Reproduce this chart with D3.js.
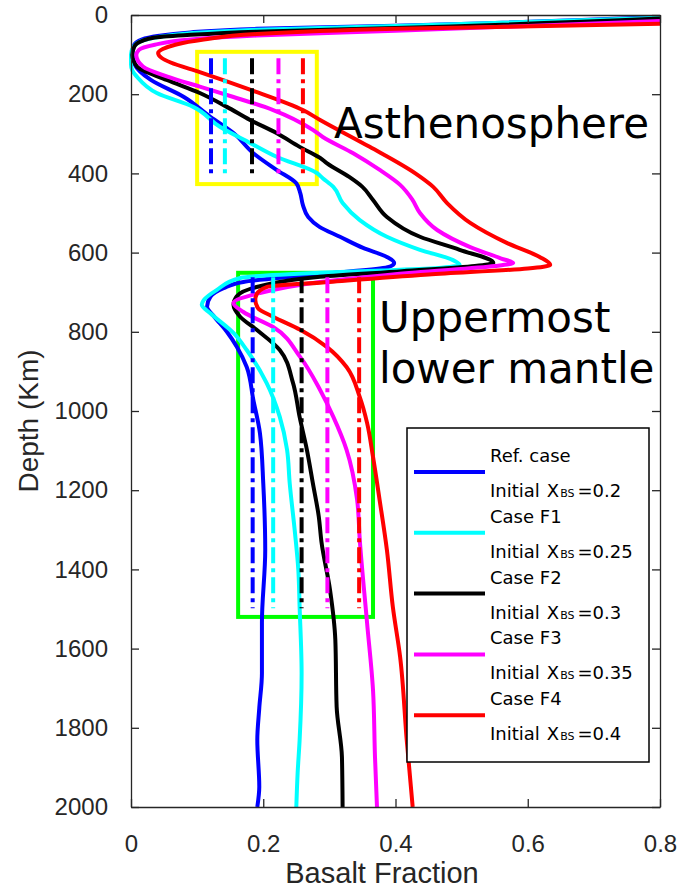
<!DOCTYPE html>
<html>
<head>
<meta charset="utf-8">
<script src="https://cdn.jsdelivr.net/npm/d3@7/dist/d3.min.js"></script>
<style>
  body { margin: 0; background: #fff; }
  svg { display: block; }
  .axis path, .axis line { stroke: #262626; stroke-width: 1.3; }
  .axis text { font-family: "Liberation Sans", Arial, sans-serif; font-size: 24px; fill: #262626; }
</style>
</head>
<body>
<div id="chart"></div>
<script>
// depth (km), basalt fraction
const profileRef = [[5,0.8],[27,0.40],[35,0.19],[44,0.09],[53,0.04],[62,0.016],[75,0.005],[95,0.002],[126,0.006],[164,0.03],[207,0.08],[257,0.12],[298,0.155],[349,0.185],[391,0.22],[425,0.25],[450,0.256],[480,0.26],[510,0.268],[535,0.285],[560,0.316],[588,0.351],[611,0.387],[626,0.398],[636,0.39],[648,0.33],[660,0.25],[674,0.17],[690,0.14],[712,0.12],[737,0.115],[760,0.125],[800,0.145],[838,0.16],[889,0.175],[972,0.185],[1056,0.195],[1182,0.2],[1351,0.203],[1535,0.198],[1662,0.198],[1750,0.194],[1831,0.191],[1949,0.194],[2000,0.191]];
const profileF1 = [[7,0.8],[28,0.40],[37,0.19],[46,0.09],[56,0.04],[66,0.015],[80,0.004],[100,0.0],[125,0.0],[140,0.002],[156,0.009],[197,0.039],[232,0.094],[283,0.135],[323,0.18],[358,0.22],[399,0.281],[412,0.29],[434,0.306],[475,0.32],[518,0.346],[560,0.387],[593,0.437],[619,0.487],[631,0.497],[638,0.47],[645,0.38],[651,0.286],[664,0.165],[694,0.13],[720,0.11],[732,0.107],[753,0.12],[803,0.155],[846,0.175],[929,0.205],[1015,0.225],[1098,0.236],[1182,0.24],[1308,0.248],[1400,0.253],[1495,0.255],[1662,0.258],[1831,0.255],[1914,0.252],[2000,0.25]];
const profileF2 = [[9,0.8],[33,0.40],[42,0.19],[50,0.09],[57,0.036],[66,0.016],[80,0.005],[101,0.002],[130,0.009],[164,0.054],[197,0.104],[232,0.145],[265,0.18],[298,0.22],[333,0.255],[361,0.286],[374,0.296],[409,0.33],[434,0.35],[467,0.366],[510,0.387],[560,0.437],[593,0.497],[626,0.548],[634,0.52],[647,0.41],[661,0.286],[687,0.19],[710,0.16],[732,0.155],[762,0.165],[795,0.19],[846,0.225],[929,0.245],[1015,0.255],[1098,0.266],[1182,0.275],[1267,0.284],[1330,0.288],[1452,0.301],[1578,0.309],[1747,0.311],[1874,0.319],[2000,0.32]];
const profileF3 = [[15,0.8],[40,0.40],[52,0.19],[62,0.09],[75,0.036],[88,0.012],[101,0.008],[130,0.018],[155,0.054],[181,0.104],[207,0.155],[240,0.215],[290,0.275],[308,0.29],[349,0.336],[390,0.375],[429,0.407],[465,0.425],[500,0.437],[543,0.463],[586,0.513],[615,0.56],[626,0.578],[634,0.55],[650,0.43],[674,0.286],[702,0.195],[727,0.155],[750,0.17],[788,0.215],[864,0.256],[947,0.286],[1015,0.306],[1098,0.326],[1225,0.342],[1326,0.346],[1535,0.357],[1705,0.366],[1874,0.369],[2000,0.372]];
const profileF4 = [[22,0.8],[35,0.40],[48,0.19],[62,0.11],[75,0.067],[86,0.048],[96,0.041],[108,0.046],[120,0.06],[144,0.104],[189,0.181],[240,0.26],[265,0.286],[333,0.361],[400,0.43],[434,0.457],[475,0.478],[525,0.513],[576,0.569],[611,0.618],[631,0.634],[640,0.6],[655,0.45],[674,0.3],[687,0.205],[705,0.19],[720,0.188],[740,0.192],[762,0.215],[795,0.256],[838,0.296],[889,0.326],[965,0.346],[1030,0.357],[1116,0.366],[1225,0.376],[1351,0.387],[1495,0.396],[1621,0.407],[1831,0.417],[2000,0.426]];

const profiles = [profileRef, profileF1, profileF2, profileF3, profileF4];
const caseNames = ["Ref. case", "Case F1", "Case F2", "Case F3", "Case F4"];
const initialFractions = ["0.2", "0.25", "0.3", "0.35", "0.4"];
const caseColors = ["#0000ff", "#00ffff", "#000000", "#ff00ff", "#ff0000"];

// mean fraction within each highlighted region
const upperMeans = [0.121, 0.142, 0.183, 0.223, 0.26];
const lowerMeans = [0.184, 0.215, 0.258, 0.297, 0.345];
const upperRange = [109, 409];
const lowerRange = [662, 1498];

const regionNames = ["Asthenosphere", "Uppermost lower mantle"];
const upperBox = { f: [0.1, 0.281], d: [93, 427] };
const lowerBox = { f: [0.162, 0.366], d: [651, 1520] };

const xTicks = [0, 0.2, 0.4, 0.6, 0.8];
const yTicks = [0, 200, 400, 600, 800, 1000, 1200, 1400, 1600, 1800, 2000];

const width = 677, height = 888;
const x = d3.scaleLinear().domain([0, 0.8]).range([131, 660]);
const y = d3.scaleLinear().domain([0, 2000]).range([15, 807]);

const svg = d3.select("#chart").append("svg")
    .attr("width", width)
    .attr("height", height);

// region boxes
[[upperBox, "#ffff00"], [lowerBox, "#00ff00"]].forEach(([b, c]) => {
    svg.append("rect")
        .attr("x", x(b.f[0]))
        .attr("y", y(b.d[0]))
        .attr("width", x(b.f[1]) - x(b.f[0]))
        .attr("height", y(b.d[1]) - y(b.d[0]))
        .attr("fill", "none")
        .attr("stroke", c)
        .attr("stroke-width", 4);
});

const line = d3.line()
    .x(d => x(d[1]))
    .y(d => y(d[0]))
    .curve(d3.curveMonotoneY);

svg.append("g").selectAll("path")
    .data(profiles)
    .enter()
    .append("path")
    .attr("d", line)
    .attr("fill", "none")
    .attr("stroke", (d, i) => caseColors[i])
    .attr("stroke-width", 4)
    .attr("stroke-linejoin", "round");

// dash-dot means
[[upperMeans, upperRange], [lowerMeans, lowerRange]].forEach(([means, r]) => {
    svg.append("g").selectAll("line")
        .data(means)
        .enter()
        .append("line")
        .attr("x1", d => x(d))
        .attr("x2", d => x(d))
        .attr("y1", y(r[0]))
        .attr("y2", y(r[1]))
        .attr("stroke", (d, i) => caseColors[i])
        .attr("stroke-width", 4)
        .attr("stroke-dasharray", "16,5,4,5");
});

// axes
svg.append("g").attr("class", "axis")
    .attr("transform", `translate(0,${y(2000)})`)
    .call(d3.axisBottom(x).tickValues(xTicks).tickSizeInner(-8).tickSizeOuter(0).tickPadding(28)
        .tickFormat(d => d === 0 ? "0" : d3.format(".1f")(d)));
svg.append("g").attr("class", "axis")
    .attr("transform", `translate(0,${y(0)})`)
    .call(d3.axisTop(x).tickValues(xTicks).tickSizeInner(-8).tickSizeOuter(0).tickFormat(""));
svg.append("g").attr("class", "axis")
    .attr("transform", `translate(${x(0)},0)`)
    .call(d3.axisLeft(y).tickValues(yTicks).tickSizeInner(-8).tickSizeOuter(0).tickPadding(23)
        .tickFormat(d3.format("d")));
svg.append("g").attr("class", "axis")
    .attr("transform", `translate(${x(0.8)},0)`)
    .call(d3.axisRight(y).tickValues(yTicks).tickSizeInner(-8).tickSizeOuter(0).tickFormat(""));

svg.append("text")
    .attr("x", 382).attr("y", 883)
    .attr("text-anchor", "middle")
    .attr("font-family", "Liberation Sans, Arial, sans-serif")
    .attr("font-size", 29)
    .attr("fill", "#262626")
    .text("Basalt Fraction");

svg.append("text")
    .attr("transform", "translate(38,421) rotate(-90)")
    .attr("text-anchor", "middle")
    .attr("font-family", "Liberation Sans, Arial, sans-serif")
    .attr("font-size", 28)
    .attr("fill", "#262626")
    .text("Depth (Km)");

// region labels
const lab = svg.append("g")
    .attr("font-family", "DejaVu Sans, sans-serif")
    .attr("font-size", 42)
    .attr("fill", "#000");
lab.append("text").attr("x", 334).attr("y", 138).text(regionNames[0]);
lab.append("text").attr("x", 379).attr("y", 332).text("Uppermost");
lab.append("text").attr("x", 379).attr("y", 383).text("lower mantle");

// legend
const legend = svg.append("g");
legend.append("rect")
    .attr("x", 407).attr("y", 428)
    .attr("width", 242).attr("height", 334)
    .attr("fill", "#fff")
    .attr("stroke", "#000")
    .attr("stroke-width", 1.5);

const items = legend.selectAll("g.item")
    .data(caseNames)
    .enter()
    .append("g")
    .attr("class", "item")
    .attr("transform", (d, i) => `translate(0,${472 + i * 60.8})`);

items.append("line")
    .attr("x1", 414).attr("x2", 485)
    .attr("stroke", (d, i) => caseColors[i])
    .attr("stroke-width", 4);

items.append("text")
    .attr("x", 490).attr("y", -10)
    .attr("font-family", "DejaVu Sans, sans-serif")
    .attr("font-size", 18)
    .text(d => d);

const t2 = items.append("text")
    .attr("x", 490).attr("y", 25)
    .attr("font-family", "DejaVu Sans, sans-serif")
    .attr("font-size", 18);
t2.append("tspan").text("Initial");
t2.append("tspan").attr("dx", 7).text("X");
t2.append("tspan").attr("font-size", 11).attr("dx", 1).text("BS");
t2.append("tspan").attr("dx", 3).text((d, i) => "=" + initialFractions[i]);
</script>
</body>
</html>
